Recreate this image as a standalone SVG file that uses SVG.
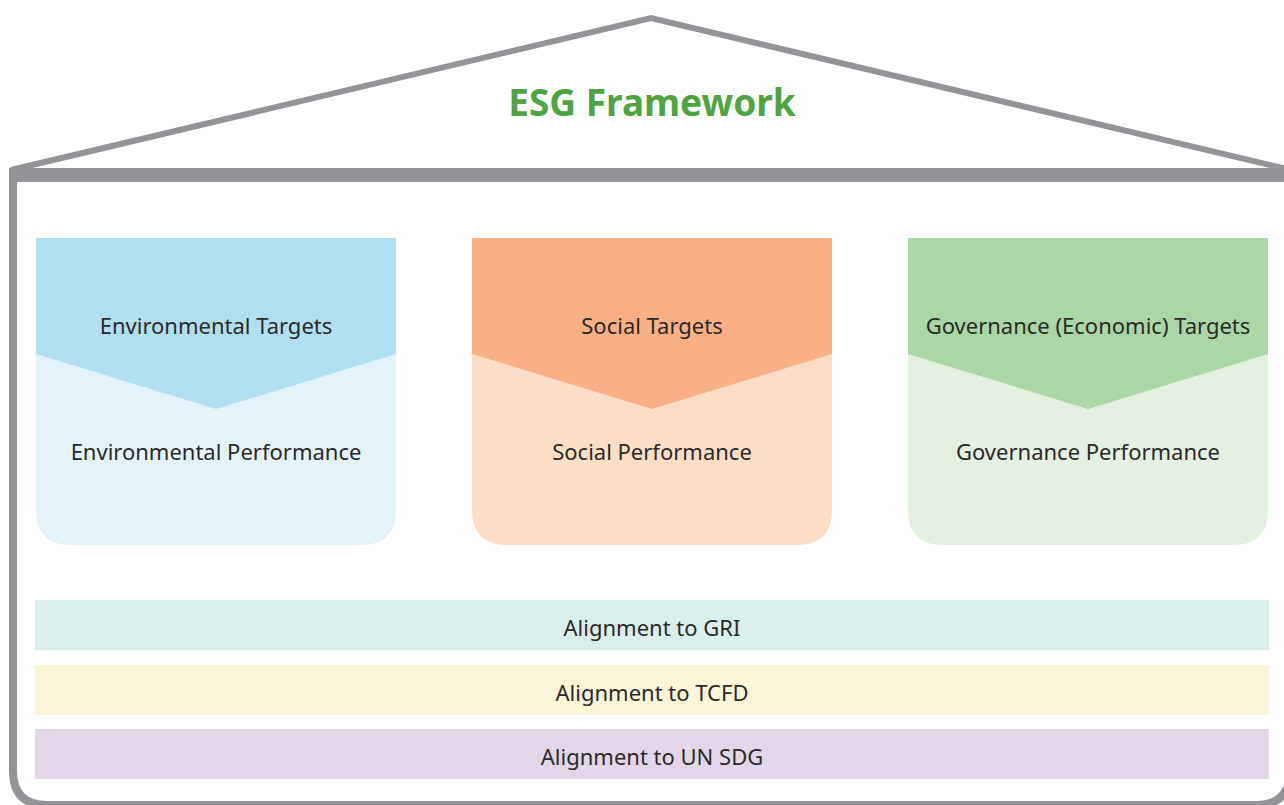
<svg xmlns="http://www.w3.org/2000/svg" width="1284" height="805" viewBox="0 0 1284 805">
<style>
.lbl{font-family:"Noto Sans","Open Sans","Liberation Sans",sans-serif;font-size:22px;fill:#2b2a29;text-anchor:middle}
.title{font-family:"Noto Sans","Open Sans","Liberation Sans",sans-serif;font-size:37px;font-weight:bold;fill:#4ea440;text-anchor:middle}
.frame{fill:none;stroke:#939498}
</style>
<rect width="1284" height="805" fill="#ffffff"/>
<g id="house">
<polyline class="frame" points="11,170 651,18 1291,170" stroke-width="6" stroke-linejoin="miter"/>
<rect x="9" y="168" width="1285" height="14" fill="#939498"/>
<path class="frame" stroke-width="8" d="M13,176 L13,771 Q13,805 47,805 L1256,805 Q1290,805 1290,771 L1290,176"/>
<text class="title" x="652" y="116">ESG Framework</text>
</g>
<g id="pillar-env">
<path d="M36,238 H396 V510 Q396,545 361,545 H71 Q36,545 36,510 Z" fill="#e3f3f9"/>
<path d="M36,238 H396 V354 L216,409 L36,354 Z" fill="#b0e0ef"/>
<text class="lbl" x="216" y="334">Environmental Targets</text>
<text class="lbl" x="216" y="460">Environmental Performance</text>
</g>
<g id="pillar-soc">
<path d="M472,238 H832 V510 Q832,545 797,545 H507 Q472,545 472,510 Z" fill="#fcdec8"/>
<path d="M472,238 H832 V354 L652,409 L472,354 Z" fill="#f9b084"/>
<text class="lbl" x="652" y="334">Social Targets</text>
<text class="lbl" x="652" y="460">Social Performance</text>
</g>
<g id="pillar-gov">
<path d="M908,238 H1268 V510 Q1268,545 1233,545 H943 Q908,545 908,510 Z" fill="#e4f0e0"/>
<path d="M908,238 H1268 V354 L1088,409 L908,354 Z" fill="#abd6a7"/>
<text class="lbl" x="1088" y="334">Governance (Economic) Targets</text>
<text class="lbl" x="1088" y="460">Governance Performance</text>
</g>
<g id="bar-gri">
<rect x="35" y="600" width="1234" height="50" fill="#daeeed"/>
<text class="lbl" x="652" y="636">Alignment to GRI</text>
</g>
<g id="bar-tcfd">
<rect x="35" y="665" width="1234" height="50" fill="#faf4d8"/>
<text class="lbl" x="652" y="701">Alignment to TCFD</text>
</g>
<g id="bar-sdg">
<rect x="35" y="729" width="1234" height="50" fill="#e3d6e9"/>
<text class="lbl" x="652" y="765">Alignment to UN SDG</text>
</g>
<g id="connectors"/>
</svg>
